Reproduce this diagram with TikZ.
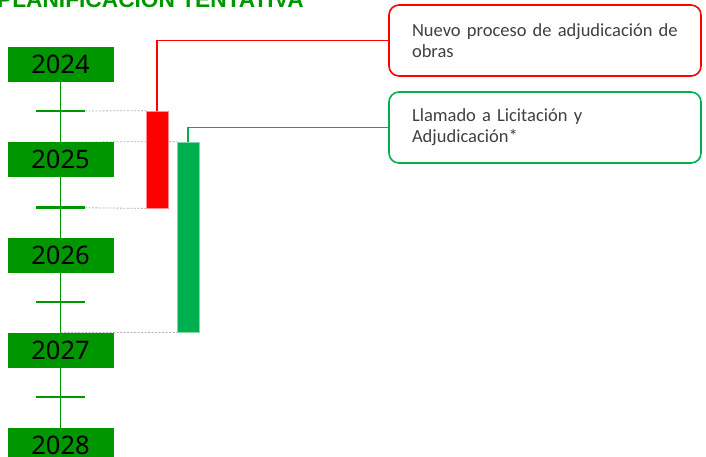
\documentclass[tikz,border=0pt]{standalone}
\usepackage{fontspec}
\newfontfamily\yearfont{Noto Sans}
\newfontfamily\notefont{Carlito}
\newfontfamily\titlefont{Liberation Sans}
\definecolor{yeargreen}{RGB}{0,150,0}
\definecolor{barred}{RGB}{255,0,0}
\definecolor{bargreen}{RGB}{0,176,80}
\definecolor{notegray}{RGB}{64,64,64}
\usetikzlibrary{arrows.meta, positioning, backgrounds}

\begin{document}
\begin{tikzpicture}[x=1pt, y=-1pt,
  year/.style={
    rectangle, fill=yeargreen, inner sep=0pt,
    minimum width=106pt, minimum height=35pt,
    font=\yearfont\fontsize{25.5}{30}\selectfont, text=black,
  },
  bar/.style={
    rectangle, inner sep=0pt, line width=0.8pt,
    minimum width=22pt,
  },
  note/.style={
    rectangle, rounded corners=10pt, line width=1.6pt, fill=white,
    minimum width=312pt, minimum height=71pt,
    text width=266pt, inner xsep=23pt, align=left,
    font=\notefont\fontsize{18.5}{21}\selectfont, text=notegray,
  },
  axis/.style={
    draw=yeargreen, line width=1.8pt,
  },
  yeartick/.style={
    draw=yeargreen, line width=2.5pt,
  },
  guide/.style={
    draw=gray!60, line width=0.8pt, dash pattern=on 2pt off 1.5pt,
  },
  link/.style={
    line width=1.3pt,
  },
]

\useasboundingbox (0,0) rectangle (706,456);

% --- Title ---
\node[anchor=base west, inner sep=0pt, text=yeargreen,
      font=\titlefont\bfseries\fontsize{22.7}{26}\selectfont] (title) at (-3, 7.7) {PLANIFICACIÓN TENTATIVA};

% --- Years ---
\foreach \yr [count=\i from 0] in {2024,...,2028}
  \node[year] (y\yr) at (60.5, 64.5+95.25*\i) {\yr};

% --- Half-year marks ---
\coordinate (m1) at (60.5, 111);
\coordinate (m2) at (60.5, 207.5);
\coordinate (m3) at (60.5, 302);
\coordinate (m4) at (60.5, 397);

% --- Bars ---
\node[bar, fill=barred, draw=barred!45, minimum height=97pt] (red) at (157, 159.5) {};
\node[bar, fill=bargreen, draw=bargreen!50, minimum height=190pt] (green) at (188, 237) {};

% --- Timeline and guides ---
\begin{scope}[on background layer]
  \draw[axis] (y2024.south) -- (y2028.north);
  \draw[guide] ([xshift=24.5pt]m1) -- (red.north west);
  \draw[guide] (y2025.north) -- (green.north west);
  \draw[guide] (m2) -- (red.south west);
  \draw[guide] (y2027.north) -- (green.south west);
\end{scope}
\foreach \m in {m1,m2,m3,m4}
  \draw[yeartick] ([xshift=-24.5pt]\m) -- ([xshift=24.5pt]\m);

% --- Notes ---
\node[note, draw=barred] (n1) at (545, 40.5) {Nuevo proceso de adjudicación de\\obras};
\node[note, draw=bargreen] (n2) at (545, 127.5) {Llamado a Licitación y\\Adjudicación*};
\draw[link, barred] (red.north) |- (n1.west);
\draw[link, bargreen] (green.north) |- (n2.west);

\end{tikzpicture}
\end{document}
